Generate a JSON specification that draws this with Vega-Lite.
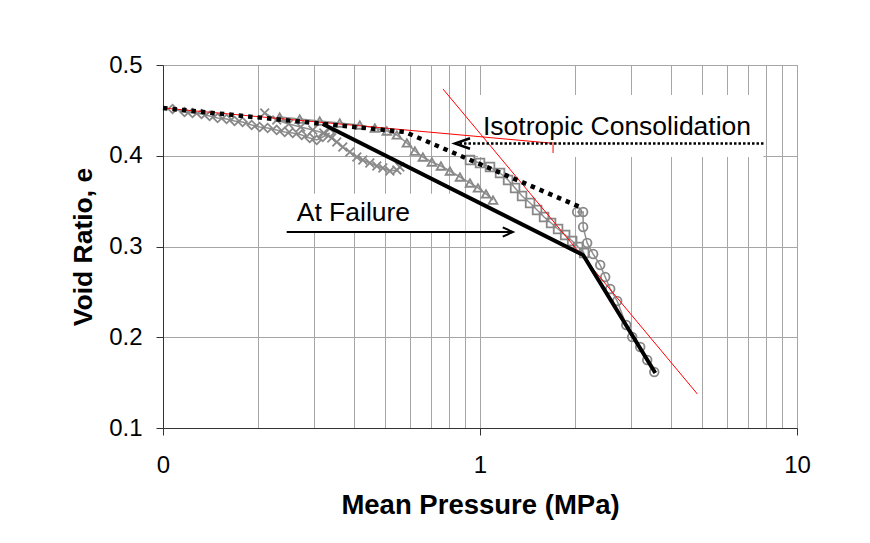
{
  "$schema": "https://vega.github.io/schema/vega-lite/v6.json",
  "width": 634,
  "height": 363,
  "autosize": {"type": "none"},
  "padding": {"left": 163, "top": 65, "right": 73, "bottom": 115},
  "background": "white",
  "config": {
    "font": "Liberation Sans",
    "view": {"stroke": "#a6a6a6", "strokeWidth": 1}
  },
  "datasets": {
    "boxes": [
      {"p0": 0.9856, "p1": 7.84, "e0": 0.467, "e1": 0.3986},
      {"p0": 0.242, "p1": 0.90, "e0": 0.358, "e1": 0.317}
    ],
    "tests": [
      {"test": "T1", "i": 0, "p": 0.1072, "e": 0.4515},
      {"test": "T1", "i": 1, "p": 0.1169, "e": 0.4482},
      {"test": "T1", "i": 2, "p": 0.1239, "e": 0.4471},
      {"test": "T1", "i": 3, "p": 0.1323, "e": 0.446},
      {"test": "T1", "i": 4, "p": 0.1403, "e": 0.4438},
      {"test": "T1", "i": 5, "p": 0.1487, "e": 0.4416},
      {"test": "T1", "i": 6, "p": 0.1587, "e": 0.4405},
      {"test": "T1", "i": 7, "p": 0.1682, "e": 0.4383},
      {"test": "T1", "i": 8, "p": 0.1783, "e": 0.4372},
      {"test": "T1", "i": 9, "p": 0.1904, "e": 0.4339},
      {"test": "T1", "i": 10, "p": 0.2018, "e": 0.4317},
      {"test": "T1", "i": 11, "p": 0.2139, "e": 0.4306},
      {"test": "T1", "i": 12, "p": 0.2284, "e": 0.4284},
      {"test": "T1", "i": 13, "p": 0.2421, "e": 0.4262},
      {"test": "T1", "i": 14, "p": 0.2566, "e": 0.4251},
      {"test": "T1", "i": 15, "p": 0.2739, "e": 0.4229},
      {"test": "T1", "i": 16, "p": 0.2903, "e": 0.4196},
      {"test": "T1", "i": 17, "p": 0.3055, "e": 0.4174},
      {"test": "T1", "i": 18, "p": 0.3191, "e": 0.4207},
      {"test": "T1", "i": 19, "p": 0.3358, "e": 0.4251},

      {"test": "T2", "i": 0, "p": 0.2093, "e": 0.4471},
      {"test": "T2", "i": 1, "p": 0.2284, "e": 0.4394},
      {"test": "T2", "i": 2, "p": 0.2492, "e": 0.435},
      {"test": "T2", "i": 3, "p": 0.2719, "e": 0.4317},
      {"test": "T2", "i": 4, "p": 0.2968, "e": 0.4284},
      {"test": "T2", "i": 5, "p": 0.3214, "e": 0.4251},
      {"test": "T2", "i": 6, "p": 0.3406, "e": 0.4196},
      {"test": "T2", "i": 7, "p": 0.3533, "e": 0.4152},
      {"test": "T2", "i": 8, "p": 0.3691, "e": 0.4096},
      {"test": "T2", "i": 9, "p": 0.3884, "e": 0.4041},
      {"test": "T2", "i": 10, "p": 0.4087, "e": 0.3986},
      {"test": "T2", "i": 11, "p": 0.4269, "e": 0.3953},
      {"test": "T2", "i": 12, "p": 0.4491, "e": 0.392},
      {"test": "T2", "i": 13, "p": 0.4726, "e": 0.3887},
      {"test": "T2", "i": 14, "p": 0.4937, "e": 0.3865},
      {"test": "T2", "i": 15, "p": 0.5195, "e": 0.3832},
      {"test": "T2", "i": 16, "p": 0.5467, "e": 0.3843},
      {"test": "T2", "i": 17, "p": 0.5587, "e": 0.3876},

      {"test": "T3", "i": 0, "p": 0.2334, "e": 0.4427},
      {"test": "T3", "i": 1, "p": 0.27, "e": 0.4405},
      {"test": "T3", "i": 2, "p": 0.3122, "e": 0.4383},
      {"test": "T3", "i": 3, "p": 0.3612, "e": 0.4361},
      {"test": "T3", "i": 4, "p": 0.4177, "e": 0.4339},
      {"test": "T3", "i": 5, "p": 0.4659, "e": 0.4306},
      {"test": "T3", "i": 6, "p": 0.5084, "e": 0.4273},
      {"test": "T3", "i": 7, "p": 0.5467, "e": 0.4229},
      {"test": "T3", "i": 8, "p": 0.588, "e": 0.4141},
      {"test": "T3", "i": 9, "p": 0.6233, "e": 0.4052},
      {"test": "T3", "i": 10, "p": 0.6606, "e": 0.3986},
      {"test": "T3", "i": 11, "p": 0.7053, "e": 0.3931},
      {"test": "T3", "i": 12, "p": 0.7531, "e": 0.3887},
      {"test": "T3", "i": 13, "p": 0.804, "e": 0.3832},
      {"test": "T3", "i": 14, "p": 0.8646, "e": 0.3766},
      {"test": "T3", "i": 15, "p": 0.9299, "e": 0.37},
      {"test": "T3", "i": 16, "p": 0.9856, "e": 0.3645},
      {"test": "T3", "i": 17, "p": 1.0447, "e": 0.3579},
      {"test": "T3", "i": 18, "p": 1.0993, "e": 0.3512},

      {"test": "T4", "i": 0, "p": 0.9299, "e": 0.3953},
      {"test": "T4", "i": 1, "p": 1.0, "e": 0.392},
      {"test": "T4", "i": 2, "p": 1.0755, "e": 0.3876},
      {"test": "T4", "i": 3, "p": 1.1566, "e": 0.381},
      {"test": "T4", "i": 4, "p": 1.2262, "e": 0.3733},
      {"test": "T4", "i": 5, "p": 1.2902, "e": 0.3645},
      {"test": "T4", "i": 6, "p": 1.3572, "e": 0.3556},
      {"test": "T4", "i": 7, "p": 1.4388, "e": 0.3479},
      {"test": "T4", "i": 8, "p": 1.5136, "e": 0.3402},
      {"test": "T4", "i": 9, "p": 1.5926, "e": 0.3325},
      {"test": "T4", "i": 10, "p": 1.6757, "e": 0.3259},
      {"test": "T4", "i": 11, "p": 1.7632, "e": 0.3193},
      {"test": "T4", "i": 12, "p": 1.8561, "e": 0.3127},
      {"test": "T4", "i": 13, "p": 1.9531, "e": 0.3061},
      {"test": "T4", "i": 14, "p": 2.04, "e": 0.2994},
      {"test": "T4", "i": 15, "p": 2.131, "e": 0.2928},

      {"test": "T5", "i": 0, "p": 2.025, "e": 0.338},
      {"test": "T5", "i": 1, "p": 2.115, "e": 0.338},
      {"test": "T5", "i": 2, "p": 2.115, "e": 0.3215},
      {"test": "T5", "i": 3, "p": 2.178, "e": 0.3039},
      {"test": "T5", "i": 4, "p": 2.275, "e": 0.2917},
      {"test": "T5", "i": 5, "p": 2.394, "e": 0.2796},
      {"test": "T5", "i": 6, "p": 2.483, "e": 0.2664},
      {"test": "T5", "i": 7, "p": 2.575, "e": 0.2532},
      {"test": "T5", "i": 8, "p": 2.709, "e": 0.24},
      {"test": "T5", "i": 9, "p": 2.893, "e": 0.2135},
      {"test": "T5", "i": 10, "p": 3.021, "e": 0.2003},
      {"test": "T5", "i": 11, "p": 3.202, "e": 0.1893},
      {"test": "T5", "i": 12, "p": 3.369, "e": 0.1749},
      {"test": "T5", "i": 13, "p": 3.546, "e": 0.1617}
    ],
    "slopes": [
      {"seg": "nc", "p": 0.1, "e": 0.4526},
      {"seg": "nc", "p": 1.664, "e": 0.414},
      {"seg": "csl", "p": 0.764, "e": 0.4736},
      {"seg": "csl", "p": 4.849, "e": 0.1375},
      {"seg": "mark", "p": 1.70, "e": 0.4152},
      {"seg": "mark", "p": 1.70, "e": 0.403}
    ],
    "failure": [
      {"p": 0.3192, "e": 0.435},
      {"p": 2.115, "e": 0.2906},
      {"p": 3.573, "e": 0.1606}
    ],
    "isotropic": [
      {"p": 0.1, "e": 0.4526},
      {"p": 0.5794, "e": 0.4262},
      {"p": 2.07, "e": 0.3435}
    ],
    "pointerFailure": [
      {"p": 0.2456, "e": 0.316},
      {"p": 1.271, "e": 0.316}
    ],
    "pointerIso": [
      {"p": 0.834, "e": 0.4135},
      {"p": 7.84, "e": 0.4135}
    ],
    "notes": [
      {"label": "Isotropic Consolidation", "p": 1.022, "e": 0.4317},
      {"label": "At Failure", "p": 0.2641, "e": 0.3369}
    ]
  },
  "encoding": {
    "x": {
      "field": "p",
      "type": "quantitative",
      "scale": {"type": "log", "domain": [0.1, 10], "nice": false},
      "axis": {
        "title": "Mean Pressure (MPa)",
        "values": [0.1, 0.2, 0.3, 0.4, 0.5, 0.6, 0.7, 0.8, 0.9, 1, 2, 3, 4, 5, 6, 7, 8, 9, 10],
        "labelExpr": "datum.value == 0.1 ? '0' : (datum.value == 1 ? '1' : (datum.value == 10 ? '10' : ''))",
        "labelFlush": false,
        "labelFont": "Liberation Sans",
        "labelFontSize": 24,
        "labelColor": "#000000",
        "labelPadding": 18,
        "tickSize": 7,
        "tickColor": "#333333",
        "tickOpacity": {"condition": {"test": "datum.value == 0.1 || datum.value == 1 || datum.value == 10", "value": 1}, "value": 0},
        "domainColor": "#333333",
        "grid": true,
        "gridColor": "#a6a6a6",
        "gridWidth": 1,
        "titleFont": "Liberation Sans",
        "titleFontSize": 27.5,
        "titleFontWeight": "bold",
        "titleColor": "#000000",
        "titlePadding": 14
      }
    },
    "y": {
      "field": "e",
      "type": "quantitative",
      "scale": {"domain": [0.1, 0.5], "nice": false},
      "axis": {
        "title": "Void Ratio, e",
        "values": [0.1, 0.2, 0.3, 0.4, 0.5],
        "format": ".1f",
        "labelFont": "Liberation Sans",
        "labelFontSize": 24,
        "labelColor": "#000000",
        "labelPadding": 14,
        "tickSize": 7,
        "tickColor": "#333333",
        "domainColor": "#333333",
        "grid": true,
        "gridColor": "#a6a6a6",
        "gridWidth": 1,
        "titleFont": "Liberation Sans",
        "titleFontSize": 26.5,
        "titleFontWeight": "bold",
        "titleColor": "#000000",
        "titlePadding": 11
      }
    }
  },
  "layer": [
    {
      "data": {"name": "boxes"},
      "mark": {"type": "rect", "fill": "white", "stroke": null},
      "encoding": {
        "x": {"field": "p0", "type": "quantitative"},
        "x2": {"field": "p1"},
        "y": {"field": "e0", "type": "quantitative"},
        "y2": {"field": "e1"}
      }
    },
    {
      "data": {"name": "tests"},
      "mark": {"type": "line", "color": "#909090", "strokeWidth": 1.5},
      "encoding": {
        "detail": {"field": "test"},
        "order": {"field": "i", "type": "quantitative"}
      }
    },
    {
      "data": {"name": "tests"},
      "mark": {"type": "point", "filled": false, "stroke": "#888888", "strokeWidth": 1.8, "size": 75, "opacity": 1},
      "encoding": {
        "shape": {
          "field": "test",
          "type": "nominal",
          "scale": {
            "domain": ["T1", "T2", "T3", "T4", "T5"],
            "range": ["diamond", "M-1,-1L1,1M-1,1L1,-1", "triangle-up", "square", "circle"]
          },
          "legend": null
        }
      }
    },
    {
      "data": {"name": "slopes"},
      "mark": {"type": "line", "color": "#ff0000", "strokeWidth": 1},
      "encoding": {"detail": {"field": "seg"}}
    },
    {
      "data": {"name": "isotropic"},
      "mark": {"type": "line", "color": "#000000", "strokeWidth": 4.5, "strokeDash": [4.5, 5]},
      "encoding": {}
    },
    {
      "data": {"name": "failure"},
      "mark": {"type": "line", "color": "#000000", "strokeWidth": 4},
      "encoding": {}
    },
    {
      "data": {"name": "pointerFailure"},
      "mark": {"type": "line", "color": "#000000", "strokeWidth": 2},
      "encoding": {}
    },
    {
      "data": {"name": "pointerFailure"},
      "transform": [{"filter": "datum.p > 1"}],
      "mark": {"type": "point", "shape": "M-1,-0.45L0,0L-1,0.45", "filled": false, "stroke": "#000000", "strokeWidth": 2, "size": 420, "opacity": 1}
    },
    {
      "data": {"name": "pointerIso"},
      "mark": {"type": "line", "color": "#000000", "strokeWidth": 2.5, "strokeDash": [2.5, 2]},
      "encoding": {}
    },
    {
      "data": {"name": "pointerIso"},
      "transform": [{"filter": "datum.p < 1"}],
      "mark": {"type": "point", "shape": "M1,-0.35L0,0L1,0.35", "filled": false, "stroke": "#000000", "strokeWidth": 2.5, "size": 900, "opacity": 1}
    },
    {
      "data": {"name": "notes"},
      "mark": {"type": "text", "align": "left", "baseline": "middle", "font": "Liberation Sans", "fontSize": 26.5, "color": "#000000"},
      "encoding": {"text": {"field": "label"}}
    }
  ]
}
